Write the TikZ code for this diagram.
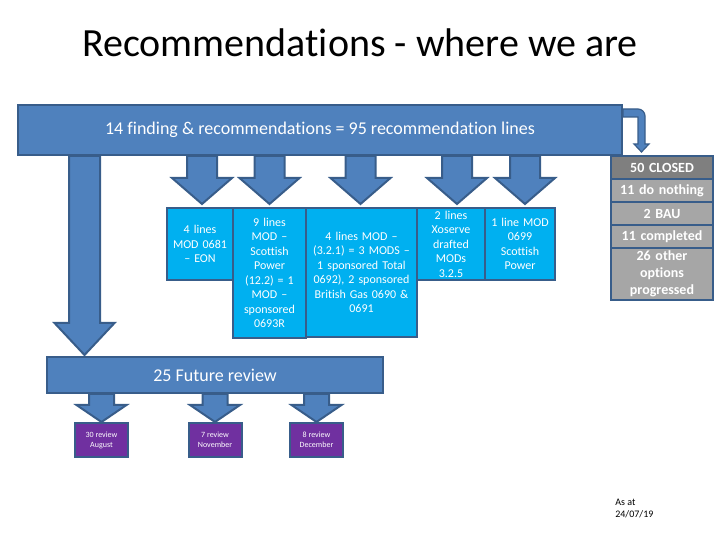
\documentclass[tikz,border=0pt]{standalone}
\usepackage{fontspec}
\setmainfont{Carlito}[Ligatures=NoCommon]
\usetikzlibrary{positioning, calc}
\definecolor{cbar}{HTML}{4F81BD}
\definecolor{cedge}{HTML}{385D8A}
\definecolor{ccyan}{HTML}{00B0F0}
\definecolor{cclosed}{HTML}{7F7F7F}
\definecolor{crow}{HTML}{A6A6A6}
\definecolor{cpurple}{HTML}{7030A0}
\newcommand{\fsize}[2]{\fontsize{#1}{#2}\selectfont}
\tikzset{
  every picture/.style={x=1pt, y=1pt, line width=2pt},
  bar/.style={draw=cedge, fill=cbar, text=white, inner sep=0pt, font=\fsize{18}{22}},
  blk/.style={draw=cedge, fill=cbar, line join=miter},
  cell/.style={draw=cedge, fill=ccyan, text=white, align=center, inner sep=0pt, outer sep=0pt, text width=#1, minimum height=72, font=\fsize{12}{14.5}},
  stat/.style={draw=cedge, fill=#1, text=white, align=center, inner sep=0pt, outer sep=0pt, text width=102pt, minimum height=23, font=\bfseries\fsize{14}{17}},
  stat/.default=crow,
  review/.style={draw=cedge, fill=cpurple, text=white, align=center, inner sep=0pt, minimum width=53, minimum height=34, font=\fsize{8}{10}},
}
% block arrow pointing down: from (top), to (tip), shaft half width, head half width, head length
\newcommand{\blkarrow}[5]{%
  \draw[blk] let \p1=#1, \p2=#2 in
    (\x2-#3,\y1) -- (\x2-#3,\y2+#5) -- (\x2-#4,\y2+#5) -- (\x2,\y2)
    -- (\x2+#4,\y2+#5) -- (\x2+#3,\y2+#5) -- (\x2+#3,\y1) -- cycle;}

\begin{document}
\begin{tikzpicture}
  \useasboundingbox (0,0) rectangle (720,540);
  \node[font=\fsize{40}{48}] (title) at (360,497) {Recommendations - where we are};

  \node[bar, minimum width=604, minimum height=50] (top) at (320,410) {14 finding \& recommendations = 95 recommendation lines};

  \node[cell=66pt, anchor=north west] (b1) at (167,332) {4 lines\\ MOD 0681\\ -- EON};
  \node[cell=73pt, minimum height=130, anchor=north west] (b2) at (b1.north east) {9 lines\\ MOD --\\ Scottish\\ Power\\ (12.2) = 1\\ MOD --\\ sponsored\\ 0693R};
  \node[cell=111pt, minimum height=129, anchor=north west] (b3) at (b2.north east) {4 lines MOD --\\ (3.2.1) = 3 MODS --\\ 1 sponsored Total\\ 0692), 2 sponsored\\ British Gas 0690 \&\\ 0691};
  \node[cell=68pt, anchor=north west] (b4) at (b3.north east) {2 lines\\ Xoserve\\ drafted\\ MODs\\ 3.2.5};
  \node[cell=70pt, anchor=north west] (b5) at (b4.north east) {1 line MOD\\ 0699\\ Scottish\\ Power};

  \node[stat=cclosed, anchor=north] (s1) at (662,384) {50 CLOSED};
  \node[stat, below=0pt of s1] (s2) {11 do nothing};
  \node[stat, below=0pt of s2] (s3) {2 BAU};
  \node[stat, below=0pt of s3] (s4) {11 completed};
  \node[stat, minimum height=52, below=0pt of s4] (s5) {26 other\\ options\\ progressed};

  \node[bar, minimum width=336, minimum height=36] (fut) at (215,165) {25 Future review};
  \node[review] (r1) at (101.5,100) {30 review\\ August};
  \node[review] (r2) at (215,100) {7 review\\ November};
  \node[review] (r3) at (316.5,100) {8 review\\ December};

  \node[anchor=west, align=left, font=\fsize{10}{12}] (date) at (611,31) {As at\\ 24/07/19};

  \foreach \b/\dx in {b1/2, b2/0, b3/-1, b4/6, b5/5}
    \blkarrow{(top.south)}{($(\b.north)+(\dx,4)$)}{15pt}{30pt}{26pt};
  \blkarrow{(top.south)}{($(fut.north west)+(38.5,1)$)}{15.5pt}{30pt}{32pt}
  \foreach \r in {r1, r2, r3}
    \blkarrow{(fut.south)}{(\r.north)}{12.5pt}{25pt}{17pt};

  \draw[blk, line width=1.2pt, shift={(top.north east)}] (0,-5) -- (15,-5) arc[start angle=90, end angle=0, radius=7]
    -- (22,-40) -- (26,-40) -- (18.5,-48) -- (11,-40) -- (15,-40) -- (15,-13) -- (0,-13) -- cycle;
\end{tikzpicture}
\end{document}
